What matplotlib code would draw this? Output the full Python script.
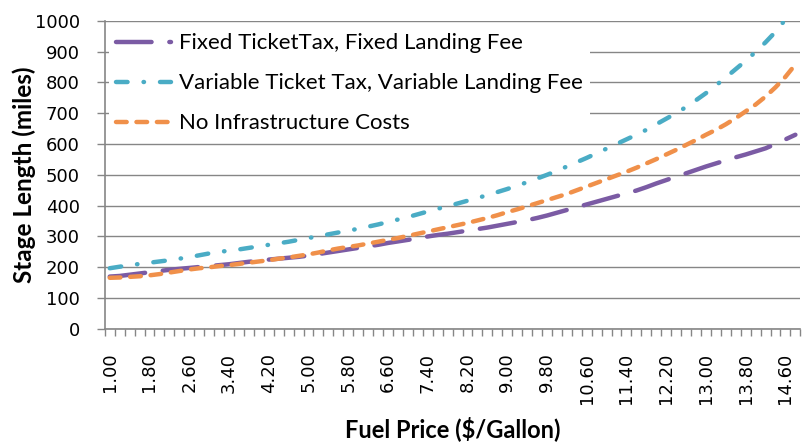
"""Stage length vs fuel price, three infrastructure cost scenarios."""

import matplotlib
matplotlib.use("Agg")
import matplotlib.pyplot as plt
import numpy as np

# fuel price categories, $1.00 to $14.80 in $0.20 steps
fuel_price = [
    "1.00", "1.20", "1.40", "1.60", "1.80", "2.00", "2.20", "2.40", "2.60", "2.80",
    "3.00", "3.20", "3.40", "3.60", "3.80", "4.00", "4.20", "4.40", "4.60", "4.80",
    "5.00", "5.20", "5.40", "5.60", "5.80", "6.00", "6.20", "6.40", "6.60", "6.80",
    "7.00", "7.20", "7.40", "7.60", "7.80", "8.00", "8.20", "8.40", "8.60", "8.80",
    "9.00", "9.20", "9.40", "9.60", "9.80", "10.00", "10.20", "10.40", "10.60", "10.80",
    "11.00", "11.20", "11.40", "11.60", "11.80", "12.00", "12.20", "12.40", "12.60", "12.80",
    "13.00", "13.20", "13.40", "13.60", "13.80", "14.00", "14.20", "14.40", "14.60", "14.80",
]

fixed_fixed = [
    170, 172, 176, 180, 184, 188, 192, 195, 198, 201,
    204, 207, 210, 214, 218, 221, 225, 228, 231, 234,
    238, 243, 248, 253, 258, 263, 268, 273, 279, 284,
    289, 294, 300, 305, 309, 314, 319, 324, 329, 335,
    341, 347, 353, 360, 368, 377, 386, 395, 404, 413,
    422, 431, 440, 449, 460, 472, 483, 494, 505, 516,
    527, 537, 547, 557, 566, 576, 586, 600, 615, 630,
]

variable_variable = [
    197, 202, 207, 211, 215, 219, 223, 228, 233, 239,
    245, 250, 254, 258, 263, 268, 273, 278, 283, 289,
    295, 301, 307, 313, 319, 325, 332, 339, 347, 355,
    363, 372, 381, 390, 398, 407, 416, 425, 434, 444,
    454, 465, 476, 488, 500, 513, 527, 541, 555, 570,
    585, 600, 615, 630, 646, 664, 682, 700, 720, 742,
    765, 790, 816, 843, 870, 899, 930, 964, 1004, 1045,
]

no_infra = [
    166, 167, 169, 171, 174, 178, 183, 188, 193, 197,
    200, 204, 207, 211, 215, 219, 223, 228, 232, 237,
    242, 248, 255, 261, 266, 271, 277, 283, 289, 295,
    302, 309, 316, 323, 330, 337, 344, 352, 360, 369,
    379, 388, 398, 408, 418, 428, 438, 450, 462, 474,
    486, 498, 510, 523, 537, 551, 566, 581, 597, 613,
    630, 646, 664, 684, 706, 728, 754, 784, 818, 858,
]

series_labels = [
    "Fixed TicketTax, Fixed Landing Fee",
    "Variable Ticket Tax, Variable Landing Fee",
    "No Infrastructure Costs",
]

AXIS_GRAY = "#868686"

fig = plt.figure(figsize=(8.06, 4.42), dpi=100)
ax = fig.add_axes([0.130, 0.2557, 0.863, 0.6975])

x = np.arange(len(fuel_price))

ax.plot(x, fixed_fixed, color="#7B5BA4", lw=3.2, dashes=(8, 4),
        dash_capstyle="round", label=series_labels[0], zorder=3)
ax.plot(x, variable_variable, color="#4AACC5", lw=3.2, dashes=(2.6, 3.6, 0.1, 3.6),
        dash_capstyle="round", label=series_labels[1], zorder=3)
ax.plot(x, no_infra, color="#F0904A", lw=3.2, dashes=(2.4, 2.2),
        dash_capstyle="round", label=series_labels[2], zorder=3)

ax.set_xlim(-0.5, len(fuel_price) - 0.5)
ax.set_ylim(0, 1000)

ax.set_yticks(np.arange(0, 1001, 100))
ax.tick_params(axis="y", direction="out", length=6, color=AXIS_GRAY, width=1,
               labelsize=13, pad=12)
for lbl in ax.get_yticklabels():
    lbl.set_fontfamily("DejaVu Sans")

ax.set_xticks(x[::4])
ax.set_xticklabels(fuel_price[::4], rotation=90, fontsize=13, family="DejaVu Sans")
ax.set_xticks(np.arange(-0.5, len(fuel_price)), minor=True)
ax.tick_params(axis="x", which="major", length=0, pad=17)
ax.tick_params(axis="x", which="minor", direction="out", length=5,
               color=AXIS_GRAY, width=1)

ax.grid(axis="y", color=AXIS_GRAY, lw=1)
ax.set_axisbelow(True)
for side in ("top", "right"):
    ax.spines[side].set_visible(False)
for side in ("left", "bottom"):
    ax.spines[side].set_color(AXIS_GRAY)
    ax.spines[side].set_linewidth(1.2)

ax.set_ylabel("Stage Length (miles)", fontsize=17.5, fontweight="bold",
              family="Lato", labelpad=-1)
ax.set_xlabel("Fuel Price ($/Gallon)", fontsize=17, fontweight="bold",
              family="Lato", labelpad=9)

leg = ax.legend(loc="upper left", bbox_to_anchor=(0.0, 0.995), frameon=True,
                fancybox=False, edgecolor="white", framealpha=1,
                prop={"family": "Lato", "size": 16}, handlelength=2.5,
                handletextpad=0.35, labelspacing=0.9, borderpad=0.3,
                borderaxespad=0.2)
leg.get_frame().set_linewidth(0)

fig.savefig("out.png", dpi=100)
